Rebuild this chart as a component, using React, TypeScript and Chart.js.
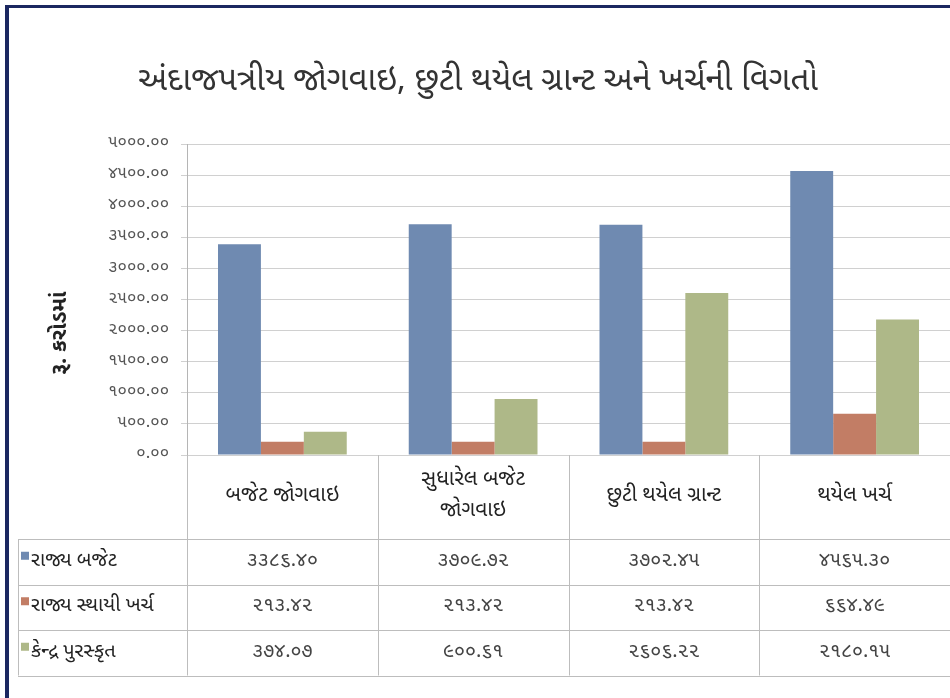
import React, { useEffect, useRef } from "react";
import { Chart, registerables } from "chart.js";

Chart.register(...registerables);

const TITLE = "અંદાજપત્રીય જોગવાઇ, છુટી થયેલ ગ્રાન્ટ અને ખર્ચની વિગતો";
const Y_TITLE = "રૂ. કરોડમાં";
const categories: string[][] = [
  ["બજેટ જોગવાઇ"],
  ["સુધારેલ બજેટ", "જોગવાઇ"],
  ["છુટી થયેલ ગ્રાન્ટ"],
  ["થયેલ ખર્ચ"],
];
const seriesNames = ["રાજ્ય બજેટ", "રાજ્ય સ્થાયી ખર્ચ", "કેન્દ્ર પુરસ્કૃત"];
const stateBudget = [3386.4, 3709.72, 3702.45, 4565.3];
const stateFixed = [213.42, 213.42, 213.42, 664.49];
const central = [374.07, 900.61, 2606.22, 2180.15];
const colors = ["#6f8ab1", "#c27d65", "#aeb888"];
const yMax = 5000;
const yStep = 500;

const FONT = "'Noto Sans Gujarati', 'Lohit Gujarati', 'Shruti', 'Noto Sans', sans-serif";
const GU_DIGITS = "૦૧૨૩૪૫૬૭૮૯";
const toGu = (s: string) => s.replace(/[0-9]/g, (d) => GU_DIGITS[Number(d)]);
const fmt = (v: number) => toGu(v.toFixed(2));

const tablePlugin = {
  id: "tablePlugin",
  afterDraw(chart: any) {
    const ctx = chart.ctx as CanvasRenderingContext2D;
    const area = chart.chartArea;
    const n = categories.length;
    const cw = (area.right - area.left) / n;
    const rowTop = area.bottom;
    const catBottom = 539;
    const rowH = 45.5;
    const tableLeft = 18;
    const lineColor = "#bdbdbd";
    ctx.save();
    // frame
    ctx.fillStyle = "#1b2760";
    ctx.fillRect(5, 5, 950, 3);
    ctx.fillRect(5, 5, 4, 698);

    // title
    ctx.fillStyle = "#333";
    ctx.font = `33px ${FONT}`;
    ctx.textAlign = "center";
    ctx.textBaseline = "middle";
    ctx.fillText(TITLE, 478, 84);

    // y title
    ctx.save();
    ctx.translate(62, 333);
    ctx.rotate(-Math.PI / 2);
    ctx.font = `bold 22px ${FONT}`;
    ctx.fillStyle = "#222";
    ctx.fillText(Y_TITLE, 0, 0);
    ctx.restore();

    // grid lines
    ctx.strokeStyle = lineColor;
    ctx.lineWidth = 1;
    ctx.beginPath();
    for (let i = 0; i <= n; i++) {
      const x = Math.round(area.left + i * cw) + 0.5;
      ctx.moveTo(x, rowTop);
      ctx.lineTo(x, catBottom + rowH * 3);
    }
    ctx.moveTo(tableLeft + 0.5, catBottom);
    ctx.lineTo(tableLeft + 0.5, catBottom + rowH * 3);
    for (let r = 0; r <= 3; r++) {
      const y = Math.round(catBottom + r * rowH) + 0.5;
      ctx.moveTo(tableLeft, y);
      ctx.lineTo(950, y);
    }
    ctx.stroke();

    // category labels
    ctx.fillStyle = "#222";
    ctx.font = `21px ${FONT}`;
    ctx.textAlign = "center";
    const xs = chart.scales.x;
    categories.forEach((lines, i) => {
      const cx = xs.getPixelForValue(i);
      const cy = (rowTop + catBottom) / 2;
      const lh = 31;
      lines.forEach((l, k) => {
        ctx.fillText(l, cx, cy + (k - (lines.length - 1) / 2) * lh);
      });
    });

    // rows
    chart.data.datasets.forEach((ds: any, r: number) => {
      const cy = catBottom + r * rowH + rowH / 2;
      ctx.fillStyle = ds.backgroundColor;
      ctx.fillRect(21, cy - 10, 8, 8);
      ctx.fillStyle = "#222";
      ctx.textAlign = "left";
      ctx.font = `20px ${FONT}`;
      ctx.fillText(ds.label, 31, cy);
      ctx.textAlign = "center";
      ctx.fillStyle = "#444";
      ds.data.forEach((v: number, i: number) => {
        ctx.fillText(fmt(v), xs.getPixelForValue(i), cy);
      });
    });
    ctx.restore();
  },
};

export default function App() {
  const ref = useRef<HTMLCanvasElement>(null);
  useEffect(() => {
    const chart = new Chart(ref.current as HTMLCanvasElement, {
      type: "bar",
      data: {
        labels: categories.map((c) => c.join(" ")),
        datasets: [
          { label: seriesNames[0], data: stateBudget, backgroundColor: colors[0] },
          { label: seriesNames[1], data: stateFixed, backgroundColor: colors[1] },
          { label: seriesNames[2], data: central, backgroundColor: colors[2] },
        ],
      },
      options: {
        animation: false,
        responsive: false,
        maintainAspectRatio: false,
        layout: { padding: { top: 144, bottom: 243, left: 0, right: 0 } },
        datasets: { bar: { categoryPercentage: 0.675, barPercentage: 1 } },
        plugins: { legend: { display: false }, title: { display: false }, tooltip: { enabled: false } },
        scales: {
          x: { display: false },
          y: {
            min: 0,
            max: yMax,
            ticks: {
              stepSize: yStep,
              callback: (v: any) => fmt(Number(v)),
              font: { family: FONT, size: 17 },
              color: "#555",
              padding: 12,
            },
            grid: { color: "#d0d0d0", tickLength: 6 },
            border: { display: true, color: "#b5b5b5" },
            afterFit: (s: any) => {
              s.width = 187;
            },
          },
        },
      },
      plugins: [tablePlugin],
    });
    return () => chart.destroy();
  }, []);
  return (
    <div style={{ position: "absolute", left: 0, top: 0, width: 950, height: 698, background: "#fff" }}>
      <canvas ref={ref} width={950} height={698} />
    </div>
  );
}
